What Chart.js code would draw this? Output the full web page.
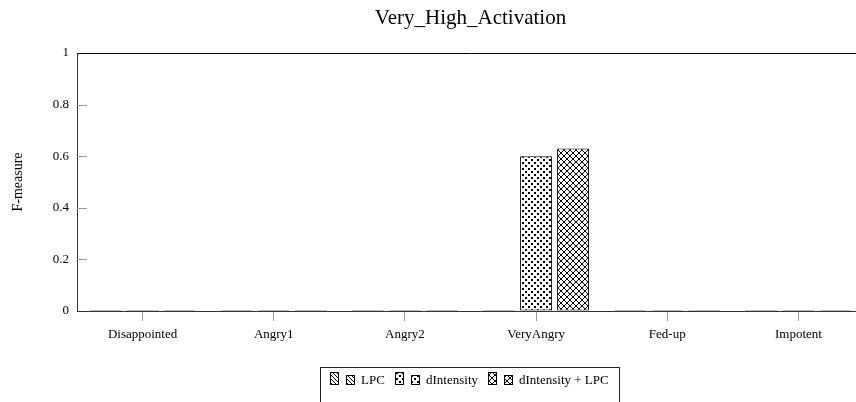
<!DOCTYPE html>
<html>
<head>
<meta charset="utf-8">
<script src="https://cdn.jsdelivr.net/npm/chart.js@4"></script>
<style>
  html, body { margin: 0; padding: 0; background: #fff; overflow: hidden; }
  #wrap { position: absolute; left: 0; top: 0; width: 866px; height: 402px; }
</style>
</head>
<body>
<div id="wrap"><canvas id="chart"></canvas></div>
<script>
// Per-emotion F-measure for the very-high-activation group
const categories = ['Disappointed', 'Angry1', 'Angry2', 'VeryAngry', 'Fed-up', 'Impotent'];
const lpcScores = [0, 0, 0, 0, 0, 0];
const dIntensityScores = [0, 0, 0, 0.6, 0, 0];
const combinedScores = [0, 0, 0, 0.63, 0, 0];
const seriesNames = ['LPC', 'dIntensity', 'dIntensity + LPC'];
const yTickValues = [0, 0.2, 0.4, 0.6, 0.8, 1];
const chartTitle = 'Very_High_Activation';
const yAxisTitle = 'F-measure';

const SERIF = "'Liberation Serif', 'Times New Roman', serif";

// Small tiles used as fill patterns for the bars
function makeTile(size, paint) {
  const c = document.createElement('canvas');
  c.width = c.height = size;
  const g = c.getContext('2d');
  g.fillStyle = '#fff';
  g.fillRect(0, 0, size, size);
  g.fillStyle = '#000';
  paint(g, size);
  return c;
}
const lineTile = makeTile(4, (g, s) => { for (let i = 0; i < s; i++) g.fillRect(i, i, 1, 1); });
const dotTile = makeTile(6, (g) => { g.fillRect(0, 0, 2, 2); g.fillRect(3, 3, 2, 2); });
const crossTile = makeTile(6, (g, s) => {
  for (let i = 0; i < s; i++) { g.fillRect(i, i, 1, 1); g.fillRect(s - 1 - i, i, 1, 1); }
});

const canvas = document.getElementById('chart');
const ctx = canvas.getContext('2d');
const patterns = [lineTile, dotTile, crossTile].map(t => ctx.createPattern(t, 'repeat'));

// Frame top edge, inward y ticks and the boxed legend below the axis
const framePlugin = {
  id: 'frame',
  afterDraw(chart) {
    const { ctx, chartArea: a, scales } = chart;
    ctx.save();
    ctx.strokeStyle = '#000';
    ctx.lineWidth = 1;
    ctx.beginPath();
    ctx.moveTo(a.left, a.top + 0.5);
    ctx.lineTo(a.right, a.top + 0.5);
    ctx.stroke();

    ctx.strokeStyle = '#9a9a9a';
    ctx.beginPath();
    yTickValues.forEach(v => {
      if (v === 0 || v === 1) return;
      const y = Math.round(scales.y.getPixelForValue(v)) + 0.5;
      ctx.moveTo(a.left, y);
      ctx.lineTo(a.left + 10, y);
    });
    ctx.stroke();

    // legend
    const boxW = 299;
    const boxL = Math.round((a.left + a.right) / 2 - 151) + 0.5;
    const boxT = 367.5;
    ctx.strokeStyle = '#222';
    ctx.strokeRect(boxL, boxT, boxW, 60);
    const starts = [9, 74, 167];
    const base = 384;
    ctx.font = '13px ' + SERIF;
    ctx.textBaseline = 'alphabetic';
    seriesNames.forEach((name, i) => {
      const x0 = Math.round(boxL + starts[i]);
      [[0, 12], [16, 9]].forEach(([dx, h]) => {
        ctx.fillStyle = patterns[i];
        ctx.fillRect(x0 + dx, base - h, 8, h);
        ctx.strokeStyle = '#000';
        ctx.strokeRect(x0 + dx + 0.5, base - h + 0.5, 8, h);
      });
      ctx.fillStyle = '#000';
      ctx.fillText(name, x0 + 31, base);
    });
    ctx.restore();
  }
};

const barStyle = (i) => ({
  backgroundColor: patterns[i],
  borderColor: '#000',
  borderWidth: 1,
  borderSkipped: false,
  minBarLength: 1,
  categoryPercentage: 0.846,
  barPercentage: 0.865
});

new Chart(canvas, {
  type: 'bar',
  data: {
    labels: categories,
    datasets: [
      { label: seriesNames[0], data: lpcScores, ...barStyle(0) },
      { label: seriesNames[1], data: dIntensityScores, ...barStyle(1) },
      { label: seriesNames[2], data: combinedScores, ...barStyle(2) }
    ]
  },
  options: {
    responsive: true,
    maintainAspectRatio: false,
    animation: false,
    layout: { padding: { left: 0, right: 2, top: 0, bottom: 51 } },
    plugins: {
      legend: { display: false },
      tooltip: { enabled: false },
      title: {
        display: true,
        fullSize: false,
        text: chartTitle,
        color: '#000',
        font: { family: SERIF, size: 21, weight: 'normal' },
        padding: { top: 6, bottom: 21.8 }
      }
    },
    scales: {
      x: {
        offset: true,
        grid: { display: true, drawOnChartArea: false, offset: false, tickLength: 10, color: '#9a9a9a' },
        border: { display: true, color: '#333' },
        ticks: { color: '#000', font: { family: SERIF, size: 13 }, padding: 6, maxRotation: 0, autoSkip: false },
        afterFit(scale) { scale.height = 40; }
      },
      y: {
        min: 0,
        max: 1,
        grid: { display: true, drawOnChartArea: false, drawTicks: false, color: 'rgba(0,0,0,0)' },
        border: { display: true, color: '#333' },
        ticks: {
          stepSize: 0.2,
          padding: 8,
          color: '#000',
          font: { family: SERIF, size: 13 },
          callback: (v) => String(Number(v.toFixed(1)))
        },
        title: {
          display: true,
          text: yAxisTitle,
          color: '#000',
          font: { family: SERIF, size: 14 },
          padding: { top: 10, bottom: 0 }
        },
        afterFit(scale) { scale.width = 77; }
      }
    }
  },
  plugins: [framePlugin]
});
</script>
</body>
</html>
